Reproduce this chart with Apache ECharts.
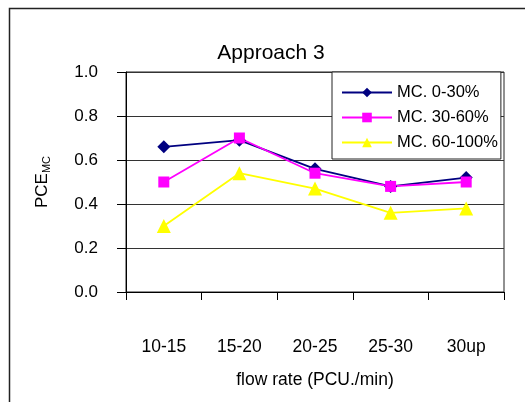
<!DOCTYPE html>
<html>
<head>
<meta charset="utf-8">
<script src="https://cdn.jsdelivr.net/npm/echarts@6/dist/echarts.min.js"></script>
<style>
  html, body { margin: 0; padding: 0; background: #fff; }
  #chart { width: 525px; height: 402px; }
</style>
</head>
<body>
<div id="chart"></div>
<script>
  // flow rate classes
  const categories = ['10-15', '15-20', '20-25', '25-30', '30up']
  // PCE values per motorcycle share
  const mc0to30 = [0.66, 0.69, 0.56, 0.48, 0.52]
  const mc30to60 = [0.50, 0.70, 0.54, 0.48, 0.50]
  const mc60to100 = [0.30, 0.54, 0.47, 0.36, 0.38]
  const yTicks = [0, 0.2, 0.4, 0.6, 0.8, 1.0]

  const font = '"Liberation Sans", Arial, sans-serif'
  const chart = echarts.init(document.getElementById('chart'))

  const option = {
    backgroundColor: '#fff',
    animation: false,
    title: {
      text: 'Approach 3',
      left: 266,
      top: 38,
      textAlign: 'center',
      textStyle: { fontFamily: font, fontSize: 21, fontWeight: 'normal', color: '#000' }
    },
    graphic: [{
      type: 'rect',
      shape: { x: 9.5, y: 8.5, width: 600, height: 500 },
      style: { fill: 'none', stroke: '#222', lineWidth: 1.5 },
      z: 0
    }],
    legend: {
      orient: 'vertical',
      left: 332,
      top: 72,
      padding: [12, 3, 8, 9],
      itemWidth: 50,
      itemHeight: 12,
      itemGap: 8,
      borderColor: '#222',
      borderWidth: 1,
      backgroundColor: '#fff',
      textStyle: { fontFamily: font, fontSize: 16.5, color: '#000' },
      z: 10
    },
    grid: {
      left: 126,
      right: 21,
      top: 72,
      bottom: 110,
      show: true,
      borderColor: '#222',
      borderWidth: 1
    },
    xAxis: {
      type: 'category',
      data: categories,
      boundaryGap: true,
      name: 'flow rate (PCU./min)',
      nameLocation: 'middle',
      nameGap: 79,
      nameTextStyle: { fontFamily: font, fontSize: 17.5, color: '#000' },
      axisLine: { lineStyle: { color: '#000', width: 1 } },
      axisTick: { show: true, length: 8, inside: false, lineStyle: { color: '#000' } },
      axisLabel: { margin: 46, fontFamily: font, fontSize: 17.5, color: '#000' },
      splitLine: { show: false }
    },
    yAxis: {
      type: 'value',
      min: 0,
      max: 1,
      interval: 0.2,
      name: '{a|PCE}{b|MC}',
      nameLocation: 'middle',
      nameGap: 74,
      nameRotate: 90,
      nameTextStyle: {
        fontFamily: font,
        color: '#000',
        rich: {
          a: { fontFamily: font, fontSize: 17, color: '#000' },
          b: { fontFamily: font, fontSize: 11, color: '#000', padding: [9, 0, 0, 0] }
        }
      },
      axisLine: { show: true, lineStyle: { color: '#000', width: 1 } },
      axisTick: { show: true, length: 9, lineStyle: { color: '#000' } },
      axisLabel: {
        margin: 28,
        fontFamily: font,
        fontSize: 17,
        color: '#000',
        formatter: v => yTicks.includes(+v.toFixed(1)) ? v.toFixed(1) : ''
      },
      splitLine: { show: true, lineStyle: { color: '#333', width: 1 } }
    },
    series: [
      {
        name: 'MC. 0-30%',
        type: 'line',
        data: mc0to30,
        symbol: 'diamond',
        symbolSize: 13,
        itemStyle: { color: '#000080' },
        lineStyle: { color: '#000080', width: 1.8 }
      },
      {
        name: 'MC. 30-60%',
        type: 'line',
        data: mc30to60,
        symbol: 'rect',
        symbolSize: 11,
        itemStyle: { color: '#ff00ff' },
        lineStyle: { color: '#ff00ff', width: 1.8 }
      },
      {
        name: 'MC. 60-100%',
        type: 'line',
        data: mc60to100,
        symbol: 'triangle',
        symbolSize: 14,
        itemStyle: { color: '#ffff00' },
        lineStyle: { color: '#ffff00', width: 1.8 }
      }
    ]
  }

  chart.setOption(option)
</script>
</body>
</html>
